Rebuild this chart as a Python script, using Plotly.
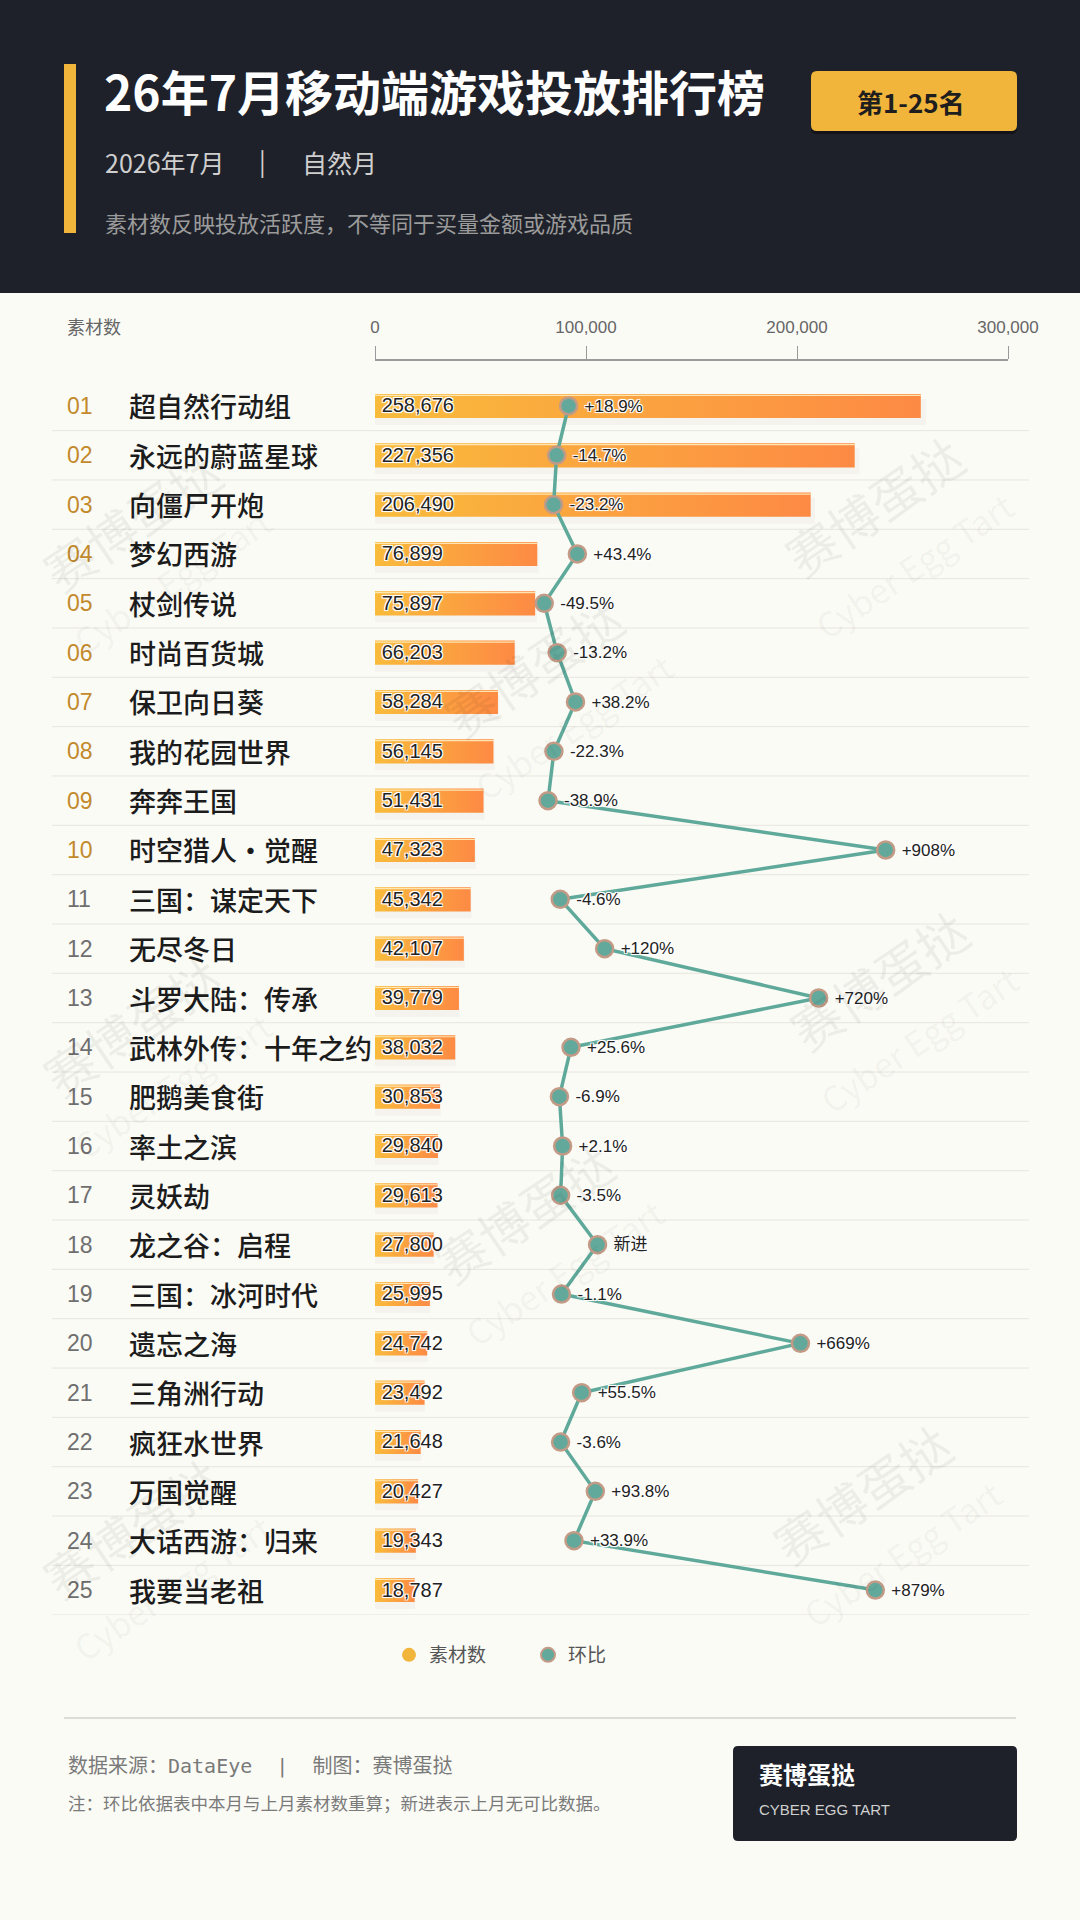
import plotly.graph_objects as go

W, H = 1080, 1920

# ---- data ----
ranks = list(range(1, 26))
games = ["超自然行动组", "永远的蔚蓝星球", "向僵尸开炮", "梦幻西游", "杖剑传说",
         "时尚百货城", "保卫向日葵", "我的花园世界", "奔奔王国", "时空猎人·觉醒",
         "三国：谋定天下", "无尽冬日", "斗罗大陆：传承", "武林外传：十年之约", "肥鹅美食街",
         "率土之滨", "灵妖劫", "龙之谷：启程", "三国：冰河时代", "遗忘之海",
         "三角洲行动", "疯狂水世界", "万国觉醒", "大话西游：归来", "我要当老祖"]
materials = [258676, 227356, 206490, 76899, 75897, 66203, 58284, 56145, 51431, 47323,
             45342, 42107, 39779, 38032, 30853, 29840, 29613, 27800, 25995, 24742,
             23492, 21648, 20427, 19343, 18787]
# month-on-month change (%); the new entry (新进) is drawn at 100
mom = [18.9, -14.7, -23.2, 43.4, -49.5, -13.2, 38.2, -22.3, -38.9, 908,
       -4.6, 120, 720, 25.6, -6.9, 2.1, -3.5, 100, -1.1, 669,
       55.5, -3.6, 93.8, 33.9, 879]
mom_labels = ["+18.9%", "-14.7%", "-23.2%", "+43.4%", "-49.5%", "-13.2%", "+38.2%", "-22.3%",
              "-38.9%", "+908%", "-4.6%", "+120%", "+720%", "+25.6%", "-6.9%", "+2.1%",
              "-3.5%", "新进", "-1.1%", "+669%", "+55.5%", "-3.6%", "+93.8%", "+33.9%", "+879%"]
x_ticks = [0, 100000, 200000, 300000]

# ---- style ----
DARK = "#1e2129"
BG = "#fbfbf6"
GOLD = "#f2b53b"
TEAL = "#5fa99b"
RING = "#c39a86"
CJK = "Noto Sans CJK SC"
LAT = "Liberation Sans, Noto Sans CJK SC"
HALO = "-1px -1px 0 #fff, 1px -1px 0 #fff, -1px 1px 0 #fff, 1px 1px 0 #fff, 0 0 3px #fff"
bar_half = 0.245


def px(x):
    return x / W


def py(y):
    return 1 - y / H


def rounded(x0, y0, x1, y1, r, color):
    # rounded box drawn in pixels, anchored at its own top-left corner
    w, h = x1 - x0, y1 - y0
    p = (f"M{r},0 L{w-r},0 Q{w},0 {w},{-r} L{w},{-(h-r)} Q{w},{-h} {w-r},{-h} "
         f"L{r},{-h} Q0,{-h} 0,{-(h-r)} L0,{-r} Q0,0 {r},0 Z")
    return dict(type="path", path=p, xref="paper", yref="paper", xsizemode="pixel",
                ysizemode="pixel", xanchor=px(x0), yanchor=py(y0), fillcolor=color,
                line=dict(width=0), layer="below")


fig = go.Figure()

# bars: soft shadow + gradient body + top highlight
for r, v in zip(ranks, materials):
    fig.add_trace(go.Scatter(
        x=[0, v * 1.01, v * 1.01, 0],
        y=[r - bar_half + 0.1, r - bar_half + 0.1, r + bar_half + 0.14, r + bar_half + 0.14],
        fill="toself", mode="lines", line=dict(width=0), fillcolor="rgba(90,70,40,0.045)",
        showlegend=False, hoverinfo="skip"))
    fig.add_trace(go.Scatter(
        x=[0, v, v, 0], y=[r - bar_half, r - bar_half, r + bar_half, r + bar_half],
        fill="toself", mode="lines", line=dict(width=0),
        fillgradient=dict(type="horizontal", colorscale=[[0, "#f9bb3b"], [1, "#fd8a44"]]),
        showlegend=False, hoverinfo="skip"))

hx, hy = [], []
for r, v in zip(ranks, materials):
    hx += [0, v, None]
    hy += [r - bar_half + 0.03, r - bar_half + 0.03, None]
fig.add_trace(go.Scatter(x=hx, y=hy, mode="lines", line=dict(color="rgba(255,236,190,0.9)", width=1.2),
                         showlegend=False, hoverinfo="skip"))

# value labels inside bars
fig.add_trace(go.Scatter(
    x=[0] * len(materials), y=[r + 0.03 for r in ranks], mode="markers+text",
    marker=dict(size=9, opacity=0), text=[f"{v:,}" for v in materials],
    textposition="middle right", cliponaxis=False,
    textfont=dict(family=LAT, size=20, color="#222222", shadow=HALO),
    showlegend=False, hoverinfo="skip"))

# month-on-month line
fig.add_trace(go.Scatter(
    x=mom, y=ranks, xaxis="x2", mode="lines+markers",
    line=dict(color=TEAL, width=3.5),
    marker=dict(size=17, color="#63a99b", line=dict(color=RING, width=2.5)),
    showlegend=False, cliponaxis=False))
fig.add_trace(go.Scatter(
    x=mom, y=[r + 0.03 for r in ranks], xaxis="x2", mode="markers+text",
    marker=dict(size=24, opacity=0), text=mom_labels, textposition="middle right",
    textfont=dict(family=LAT, size=17, color="#222222", shadow=HALO),
    showlegend=False, cliponaxis=False, hoverinfo="skip"))

# legend entries
fig.add_trace(go.Scatter(x=[None], y=[None], mode="markers", name="素材数",
                         marker=dict(size=14, color=GOLD)))
fig.add_trace(go.Scatter(x=[None], y=[None], mode="markers", name="环比",
                         marker=dict(size=14, color="#63a99b", line=dict(color=RING, width=2))))

shapes = [
    dict(type="rect", xref="paper", yref="paper", x0=0, x1=1, y0=py(293), y1=1,
         fillcolor=DARK, line=dict(width=0), layer="below"),
    dict(type="rect", xref="paper", yref="paper", x0=px(64), x1=px(76), y0=py(233), y1=py(64),
         fillcolor=GOLD, line=dict(width=0), layer="below"),
    rounded(811, 74, 1017, 134, 6, "#121419"),
    rounded(811, 71, 1017, 131, 6, GOLD),
    dict(type="line", xref="paper", yref="paper", x0=px(64), x1=px(1016), y0=py(1718), y1=py(1718),
         line=dict(color="#dcdcd6", width=2)),
    rounded(733, 1746, 1017, 1841, 5, DARK),
]
for r in ranks:
    shapes.append(dict(type="line", xref="paper", yref="y", x0=px(52), x1=px(1029), y0=r + 0.5, y1=r + 0.5,
                       line=dict(color="#e6e5de", width=1), layer="below"))

ann = []


def text(x, y, s, size, color, family=CJK, weight=400, anchor="left"):
    ann.append(dict(x=px(x), y=py(y), xref="paper", yref="paper", text=s, showarrow=False,
                    xanchor=anchor, yanchor="middle",
                    font=dict(family=family, size=size, color=color, weight=weight)))


text(102, 90, "26年7月移动端游戏投放排行榜", 48, "#ffffff", weight=700)
text(855, 101, "第1-25名", 26, "#1e1e1e", weight=700)
text(103, 162, "2026年7月", 25, "#cfcfcf")
text(262, 160, "|", 25, "#cfcfcf", anchor="center")
text(300, 162, "自然月", 25, "#cfcfcf")
text(103, 222, "素材数反映投放活跃度，不等同于买量金额或游戏品质", 22, "#9b9b9b")
text(65, 326, "素材数", 18, "#666666")
text(66, 1766, "数据来源：DataEye  |  制图：赛博蛋挞", 20, "#7a7a7a",
     family="DejaVu Sans Mono, Noto Sans CJK SC")
text(66, 1802, "注：环比依据表中本月与上月素材数重算；新进表示上月无可比数据。", 17.5, "#7a7a7a")
text(757, 1773, "赛博蛋挞", 24, "#ffffff", weight=700)
text(757, 1809, "CYBER EGG TART", 15, "#cfcfcf", family=LAT)

# rank numbers and game names
for r, g in zip(ranks, games):
    ann.append(dict(x=px(65), y=r, xref="paper", yref="y", text=f"{r:02d}", showarrow=False,
                    xanchor="left", yanchor="middle",
                    font=dict(family=LAT, size=23, weight=400, color="#c28a2c" if r <= 10 else "#6f6f6f")))
    ann.append(dict(x=px(127), y=r, xref="paper", yref="y", text=g, showarrow=False,
                    xanchor="left", yanchor="middle",
                    font=dict(family=CJK, size=27, weight=500, color="#1c1c1c")))

# watermarks
for wx, wy in [(148, 545), (890, 530), (550, 692), (148, 1050), (895, 1004),
               (540, 1237), (148, 1552), (878, 1518)]:
    ann.append(dict(x=px(wx), y=py(wy), xref="paper", yref="paper", showarrow=False,
                    xanchor="center", yanchor="middle",
                    text="赛博蛋挞<br><span style='font-size:34px'>Cyber Egg Tart</span>",
                    textangle=-34, font=dict(family=CJK, size=50, color="rgba(0,0,0,0.055)")))

fig.update_layout(
    width=W, height=H, margin=dict(l=0, r=0, t=0, b=0, pad=0),
    paper_bgcolor=BG, plot_bgcolor="rgba(0,0,0,0)",
    shapes=shapes, annotations=ann,
    showlegend=True,
    legend=dict(orientation="h", x=px(389), xanchor="left", y=py(1655), yanchor="middle",
                font=dict(family=CJK, size=19, color="#555555"), bgcolor="rgba(0,0,0,0)",
                entrywidth=94, entrywidthmode="pixels"),
    xaxis=dict(domain=[px(375), px(1008)], range=[0, 300000], side="top", anchor="free",
               position=py(360), showline=True, linecolor="#9a9a9a", linewidth=1.5,
               ticks="outside", ticklen=13, tickcolor="#9a9a9a", tickwidth=1.2,
               ticklabelstandoff=6, automargin=False,
               tickvals=x_ticks, ticktext=[f"{t:,}" for t in x_ticks],
               tickfont=dict(family=LAT, size=17, color="#666666"),
               showgrid=False, zeroline=False, fixedrange=True),
    xaxis2=dict(domain=[px(375), px(1008)], range=[-524, 1251], overlaying="x",
                visible=False, fixedrange=True, automargin=False),
    yaxis=dict(domain=[py(1614.7), py(381.3)], range=[25.5, 0.5], visible=False,
               fixedrange=True, automargin=False),
)

page_js = ("document.documentElement.style.margin='0';document.documentElement.style.overflow='hidden';"
           "document.body.style.margin='0';document.body.style.padding='0';document.body.style.overflow='hidden';")
fig.write_html("out.html", post_script=page_js, config={"displayModeBar": False})
